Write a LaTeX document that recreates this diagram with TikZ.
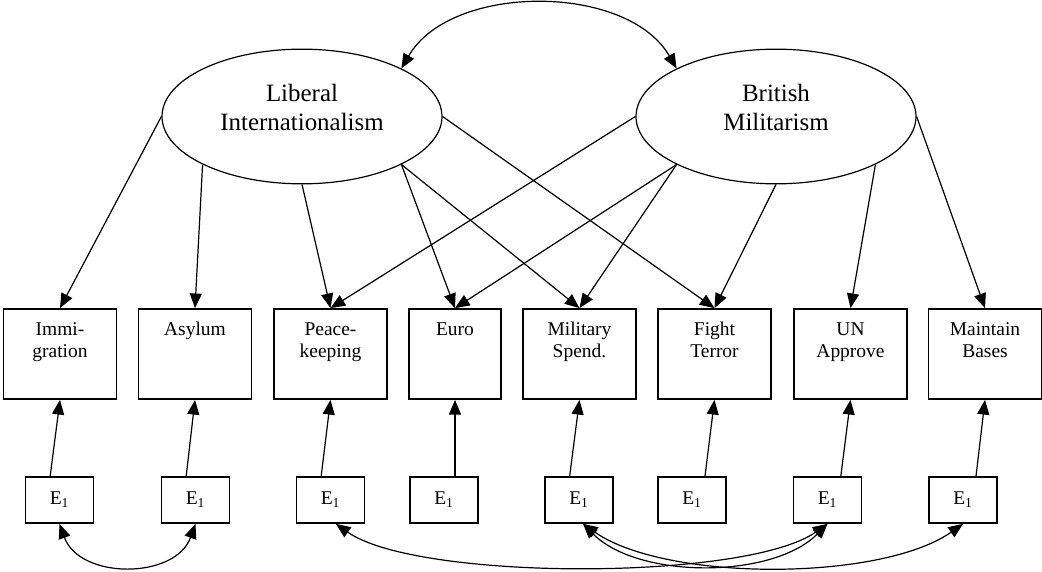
\documentclass[tikz,border=0pt]{standalone}
\usepackage{fontspec}
\setmainfont{Liberation Serif}
\usetikzlibrary{arrows.meta,shapes.geometric}

\begin{document}
\begin{tikzpicture}
  [ ->, >={Triangle[length=11pt,width=9pt]}, x=0.75pt, y=0.75pt, line width=0.9pt,
    latent/.style={draw, ellipse, minimum width=210pt, minimum height=101pt, align=center,
      font=\fontsize{18.7}{21.75}\selectfont},
    obs/.style={draw, line width=1.3pt, minimum width=84.75pt, minimum height=67.5pt, align=center,
      font=\fontsize{14.6}{16.5}\selectfont},
    err/.style={draw, line width=1.3pt, minimum width=51pt, minimum height=34.5pt,
      font=\fontsize{14.6}{16}\selectfont}]
  \useasboundingbox (0,0) rectangle (1042,-571);

  % latent factors
  \node [name=lib, latent] at (302,-116.5) {Liberal\\Internationalism\rule[-14pt]{0pt}{14pt}};
  \node [name=brit, latent] at (776,-116.5) {British\\Militarism\rule[-14pt]{0pt}{14pt}};

  % indicators
  \node [name=imm, obs] at (60,-354) {Immi-\\gration\\\strut};
  \node [name=asy, obs] at (195,-354) {Asylum\\\strut\\\strut};
  \node [name=pk, obs] at (330.5,-354) {Peace-\\keeping\\\strut};
  \node [name=euro, obs, minimum width=69pt] at (455,-354) {Euro\\\strut\\\strut};
  \node [name=mil, obs] at (579.5,-354) {Military\\Spend.\\\strut};
  \node [name=terr, obs] at (714.5,-354) {Fight\\Terror\\\strut};
  \node [name=un, obs] at (850.5,-354) {UN\\Approve\\\strut};
  \node [name=bases, obs] at (985,-354) {Maintain\\Bases\\\strut};

  % error terms
  \node [name=eimm, err] at (59.5,-500) {E\textsubscript{1}};
  \node [name=easy, err] at (195.5,-500) {E\textsubscript{1}};
  \node [name=epk, err] at (330.5,-500) {E\textsubscript{1}};
  \node [name=eeuro, err] at (444,-500) {E\textsubscript{1}};
  \node [name=emil, err] at (579,-500) {E\textsubscript{1}};
  \node [name=eterr, err] at (692,-500) {E\textsubscript{1}};
  \node [name=eun, err] at (827.5,-500) {E\textsubscript{1}};
  \node [name=ebases, err] at (963,-500) {E\textsubscript{1}};

  \path (lib.west) edge (imm.north)
        (lib.south west) edge (asy.north)
        (lib.south) edge (pk.north)
        (lib.south east) edge (euro.north)
        (lib.south east) edge (mil.north)
        (lib.east) edge (terr.north)
        (brit.west) edge (pk.north)
        (brit.south west) edge (euro.north)
        (brit.south west) edge (mil.north)
        (brit.south) edge (terr.north)
        (brit.south east) edge (un.north)
        (brit.east) edge (bases.north);

  \path ([xshift=-7pt]eimm.north) edge (imm.south)
        ([xshift=-7pt]easy.north) edge (asy.south)
        ([xshift=-7pt]epk.north) edge (pk.south)
        ([xshift=8.25pt]eeuro.north) edge (euro.south)
        ([xshift=-7pt]emil.north) edge (mil.south)
        ([xshift=9.75pt]eterr.north) edge (terr.south)
        ([xshift=10pt]eun.north) edge (un.south)
        ([xshift=9.75pt]ebases.north) edge (bases.south);

  % correlations
  \path [<->] (lib.north east) edge [out=60, in=120, looseness=0.92] (brit.north west)
        (eimm.south) edge [out=-70, in=-110, looseness=1.12] (easy.south)
        ([xshift=4pt]epk.south) edge [out=-35, in=-145, looseness=0.52] (eun.south)
        ([xshift=3pt]emil.south) edge [out=-45, in=-135, looseness=0.82] (eun.south)
        ([xshift=3pt]emil.south) edge [out=-35, in=-145, looseness=0.68] (ebases.south);
\end{tikzpicture}
\end{document}
